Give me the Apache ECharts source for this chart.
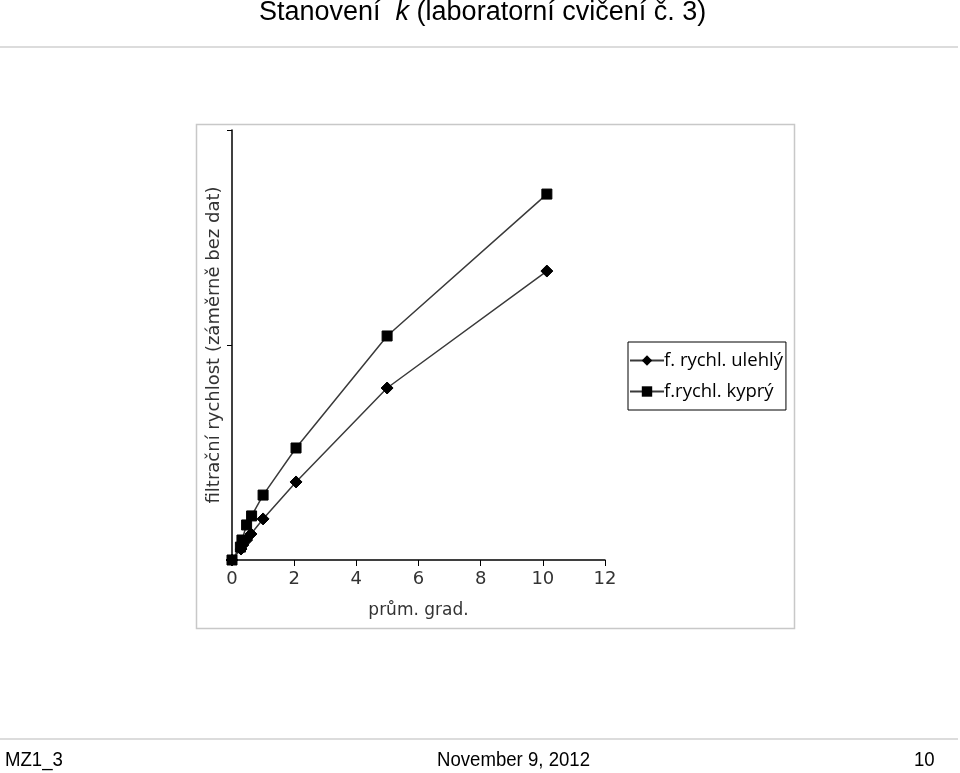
<!DOCTYPE html>
<html>
<head>
<meta charset="utf-8">
<script src="https://cdn.jsdelivr.net/npm/echarts@6/dist/echarts.min.js"></script>
<style>
html,body{margin:0;padding:0;background:#fff;}
#c{width:960px;height:773px;}
</style>
</head>
<body>
<div id="c"></div>
<script>
// Data (y axis intentionally without values)
var seriesNames = ['f. rychl. ulehlý', 'f.rychl. kyprý'];
var xUlehly = [0, 0.29, 0.35, 0.47, 0.61, 1.0, 2.06, 4.99, 10.13];
var yUlehly = [0, 0.051, 0.07, 0.093, 0.121, 0.191, 0.363, 0.80, 1.344];
var xKypry = [0, 0.27, 0.32, 0.47, 0.63, 1.0, 2.06, 4.99, 10.13];
var yKypry = [0, 0.06, 0.093, 0.163, 0.205, 0.302, 0.521, 1.042, 1.702];
var xTicks = [0, 2, 4, 6, 8, 10, 12];
var titleMain = 'Stanovení  ';
var titleK = 'k';
var titleRest = ' (laboratorní cvičení č. 3)';
var footerLeft = 'MZ1_3';
var footerMid = 'November 9, 2012';
var footerRight = '10';
var xName = 'prům. grad.';
var yName = 'filtrační rychlost (záměrně bez dat)';

function pairs(xs, ys){ return xs.map(function(x,i){return [x, ys[i]];}); }

var chart = echarts.init(document.getElementById('c'), null, {renderer:'canvas'});
var lineColor = '#3a3a3a';
var footFont = '20px "Liberation Sans", Arial';
chart.setOption({
  animation:false,
  backgroundColor:'#fff',
  title:{
    text:'{a|'+titleMain+'}{k|'+titleK+'}{a|'+titleRest+'}',
    left:254, top:-6,
    textStyle:{
      fontWeight:'normal',
      rich:{
        a:{fontFamily:'Liberation Sans', fontSize:27, fontWeight:'normal', color:'#000'},
        k:{fontFamily:'Liberation Sans', fontSize:27, fontStyle:'italic', fontWeight:'normal', color:'#000'}
      }
    }
  },
  graphic:[
    {type:'line', shape:{x1:0,y1:47,x2:958,y2:47}, style:{stroke:'#dcdcdc', lineWidth:2}},
    {type:'line', shape:{x1:0,y1:739,x2:958,y2:739}, style:{stroke:'#dcdcdc', lineWidth:2}},
    {type:'rect', shape:{x:196.5,y:124.5,width:598,height:504}, style:{fill:'none', stroke:'#c8c8c8', lineWidth:1.5}, z:-1},
    {type:'text', x:5, y:750, scaleX:0.93, style:{text:footerLeft, font:footFont, fill:'#000'}},
    {type:'text', x:437, y:750, scaleX:0.93, style:{text:footerMid, font:footFont, fill:'#000'}},
    {type:'text', x:914, y:750, scaleX:0.93, style:{text:footerRight, font:footFont, fill:'#000'}}
  ],
  legend:{
    orient:'vertical',
    left:628, top:342,
    padding:[9,3,9,1],
    borderColor:'#000', borderWidth:1,
    itemWidth:34, itemHeight:13, itemGap:12,
    textStyle:{fontFamily:'Open Sans', fontSize:18.5, color:'#000', padding:[0,0,0,-5]},
    data:seriesNames
  },
  grid:{left:232, top:130, width:373, height:430, containLabel:false},
  xAxis:{
    type:'value', min:0, max:12, interval:2,
    name:xName, nameLocation:'middle', nameGap:42,
    nameTextStyle:{fontFamily:'DejaVu Sans', fontSize:17, color:'#333'},
    axisLine:{show:true, lineStyle:{color:'#000', width:1.5}},
    axisTick:{show:true, length:6, lineStyle:{color:'#000'}},
    axisLabel:{fontFamily:'DejaVu Sans', fontSize:18, color:'#333', margin:10},
    splitLine:{show:false}
  },
  yAxis:{
    type:'value', min:0, max:2, interval:1,
    name:yName, nameLocation:'middle', nameGap:9,
    nameTextStyle:{fontFamily:'DejaVu Sans', fontSize:18, color:'#333'},
    axisLine:{show:true, lineStyle:{color:'#000', width:1.5}},
    axisTick:{show:true, length:5, lineStyle:{color:'#000'}},
    axisLabel:{show:false},
    splitLine:{show:false}
  },
  series:[
    {
      name:seriesNames[0], type:'line', data:pairs(xUlehly, yUlehly),
      symbol:'diamond', symbolSize:12, showAllSymbol:true,
      lineStyle:{color:lineColor, width:1.5},
      itemStyle:{color:'#000', borderColor:'#000'}
    },
    {
      name:seriesNames[1], type:'line', data:pairs(xKypry, yKypry),
      symbol:'rect', symbolSize:10, showAllSymbol:true,
      lineStyle:{color:lineColor, width:1.5},
      itemStyle:{color:'#000', borderColor:'#000'}
    }
  ]
});
</script>
</body>
</html>
